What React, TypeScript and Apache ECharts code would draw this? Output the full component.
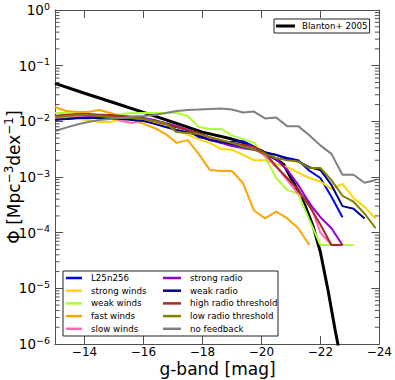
import React, { useEffect, useRef } from 'react';
import * as echarts from 'echarts';

// Bin centres (absolute g-band magnitude)
const MAGS = [
  -13.0, -13.375, -13.75, -14.125, -14.5, -14.875, -15.25, -15.625, -16.0, -16.375,
  -16.75, -17.125, -17.5, -17.875, -18.25, -18.625, -19.0, -19.375, -19.75, -20.125,
  -20.5, -20.875, -21.25, -21.625, -22.0, -22.375, -22.75, -23.125, -23.5, -23.875,
];

// Blanton+ 2005 reference luminosity function
const BLANTON_MAG = [-13, -14, -15, -16, -17, -18, -19, -19.5, -20, -20.5, -20.75, -21, -21.25, -21.5, -21.75, -22, -22.25, -22.5, -22.65];
const BLANTON_PHI = [0.048, 0.032, 0.0216, 0.0145, 0.0097, 0.0064, 0.0048, 0.0040, 0.00294, 0.00208, 0.00170, 0.00097, 0.00056, 0.00029, 0.000132, 0.000045, 0.0000098, 0.0000018, 0.0000007];

const L25N256 = [0.0110, 0.0110, 0.0110, 0.0115, 0.0115, 0.0115, 0.0115, 0.0110, 0.0106, 0.0097, 0.0082, 0.0079, 0.0070, 0.0052, 0.0048, 0.0041, 0.0043, 0.0044, 0.0035, 0.0027, 0.0025, 0.0022, 0.0020, 0.0013, 0.00096, 0.00044, 0.00019];
const STRONG_WINDS = [0.0120, 0.0115, 0.0110, 0.0106, 0.0097, 0.0097, 0.0110, 0.0110, 0.0101, 0.0093, 0.0082, 0.0070, 0.0057, 0.0048, 0.0041, 0.0032, 0.0031, 0.0025, 0.0020, 0.0020, 0.0017, 0.0015, 0.0012, 0.00096, 0.00083, 0.00061, 0.00075, 0.00042, 0.00029, 0.00018];
const WEAK_WINDS = [0.0141, 0.0141, 0.0135, 0.0135, 0.0135, 0.0130, 0.0135, 0.0141, 0.0141, 0.0141, 0.0141, 0.0141, 0.0125, 0.0079, 0.0073, 0.0073, 0.0056, 0.0048, 0.0041, 0.0023, 0.00096, 0.00058, 0.00050, 0.00017, 0.00006, 0.00006, 0.00006, 0.00006];
const FAST_WINDS = [0.0181, 0.0153, 0.0147, 0.0147, 0.0160, 0.0141, 0.0120, 0.0106, 0.0090, 0.0076, 0.0059, 0.0041, 0.0046, 0.0026, 0.00134, 0.00128, 0.00128, 0.00078, 0.00025, 0.00018, 0.00024, 0.00018, 0.00012, 0.00006];
const SLOW_WINDS = [0.0115, 0.0120, 0.0120, 0.0115, 0.0115, 0.0120, 0.0101, 0.0093, 0.0110, 0.0101, 0.0093, 0.0082, 0.0070, 0.0059, 0.0050, 0.0044, 0.0038, 0.0035, 0.0033, 0.0024, 0.00153, 0.00088, 0.00050, 0.00036, 0.00010, 0.00006];
const STRONG_RADIO = [0.0125, 0.0130, 0.0130, 0.0125, 0.0120, 0.0120, 0.0125, 0.0120, 0.0115, 0.0106, 0.0093, 0.0082, 0.0070, 0.0057, 0.0046, 0.0041, 0.0036, 0.0033, 0.0031, 0.0026, 0.0021, 0.00134, 0.00072, 0.00034, 0.00019, 0.00012, 0.00006];
const WEAK_RADIO = [0.0106, 0.0110, 0.0115, 0.0115, 0.0115, 0.0110, 0.0110, 0.0106, 0.0101, 0.0090, 0.0079, 0.0070, 0.0064, 0.0055, 0.0046, 0.0043, 0.0039, 0.0035, 0.0031, 0.0028, 0.0025, 0.0021, 0.0019, 0.0015, 0.00134, 0.00072, 0.00030, 0.00027, 0.00018];
const HIGH_RADIO_THR = [0.0125, 0.0130, 0.0135, 0.0135, 0.0130, 0.0130, 0.0125, 0.0120, 0.0110, 0.0101, 0.0090, 0.0079, 0.0070, 0.0062, 0.0052, 0.0046, 0.0041, 0.0038, 0.0035, 0.0027, 0.00155, 0.00096, 0.00059, 0.00030, 0.00014, 0.00006, 0.00006];
const LOW_RADIO_THR = [0.0120, 0.0125, 0.0130, 0.0130, 0.0125, 0.0120, 0.0115, 0.0115, 0.0110, 0.0101, 0.0093, 0.0064, 0.0062, 0.0059, 0.0052, 0.0046, 0.0041, 0.0035, 0.0031, 0.0026, 0.0022, 0.0020, 0.0019, 0.00145, 0.00145, 0.00088, 0.00046, 0.00036, 0.00022, 0.00012];
const NO_FEEDBACK = [0.0067, 0.0077, 0.0088, 0.0097, 0.0106, 0.0110, 0.0115, 0.0122, 0.0125, 0.0130, 0.0141, 0.0153, 0.0160, 0.0163, 0.0167, 0.0170, 0.0163, 0.0144, 0.0150, 0.0113, 0.0117, 0.0082, 0.0082, 0.0056, 0.0037, 0.0026, 0.0011, 0.0011, 0.00079, 0.00088];

const RUNS = [
  { name: 'L25n256', color: '#0000ff', data: L25N256 },
  { name: 'strong winds', color: '#ffd700', data: STRONG_WINDS },
  { name: 'weak winds', color: '#adff2f', data: WEAK_WINDS },
  { name: 'fast winds', color: '#ffa500', data: FAST_WINDS },
  { name: 'slow winds', color: '#ff69b4', data: SLOW_WINDS },
  { name: 'strong radio', color: '#9400d3', data: STRONG_RADIO },
  { name: 'weak radio', color: '#00008b', data: WEAK_RADIO },
  { name: 'high radio threshold', color: '#a52a2a', data: HIGH_RADIO_THR },
  { name: 'low radio threshold', color: '#808000', data: LOW_RADIO_THR },
  { name: 'no feedback', color: '#808080', data: NO_FEEDBACK },
];

const FONT = '"DejaVu Sans", sans-serif';
const AX = '#505050';

export default function App() {
  const ref = useRef<HTMLDivElement>(null);
  useEffect(() => {
    if (!ref.current) return;
    const chart = echarts.init(ref.current, null, { renderer: 'svg' });

    const minorVals: number[][] = [];
    for (let e = -6; e < 0; e++) {
      for (let m = 2; m <= 9; m++) minorVals.push([-13, m * Math.pow(10, e)]);
    }

    const fmtX = (v: number) => (v < 0 ? '\u2212' + Math.abs(v) : String(v));
    const fmtY = (v: number) => {
      const e = Math.round(Math.log10(v));
      return '{b|10}{s|' + (e < 0 ? '\u2212' + -e : String(e)) + '}';
    };

    const xBase = {
      type: 'value', min: -24, max: -13, inverse: true, interval: 2,
      axisLine: { show: true, onZero: false, lineStyle: { color: AX, width: 1 } },
      axisTick: { show: true, inside: true, length: 8, lineStyle: { color: AX, width: 1 } },
      splitLine: { show: false },
    };
    const yBase = {
      type: 'log', logBase: 10, min: 1e-6, max: 1, splitNumber: 6,
      axisLine: { show: true, onZero: false, lineStyle: { color: AX, width: 1 } },
      axisTick: { show: true, inside: true, length: 8, lineStyle: { color: AX, width: 1 } },
      splitLine: { show: false },
      minorTick: { show: false },
    };

    const series: any[] = [
      {
        type: 'line', name: 'Blanton+ 2005', color: '#000',
        data: BLANTON_MAG.map((m, i) => [m, BLANTON_PHI[i]]),
        showSymbol: false, lineStyle: { width: 3, color: '#000' }, z: 2,
      },
      ...RUNS.map((r, idx) => ({
        type: 'line', name: r.name, color: r.color,
        data: r.data.map((v, i) => [MAGS[i], v]),
        showSymbol: false, lineStyle: { width: 2, color: r.color }, z: 3 + idx,
      })),
      {
        type: 'custom', name: 'minor', silent: true, z: 20,
        data: minorVals,
        encode: { x: 0, y: 1 },
        renderItem: (_p: any, api: any) => {
          const v = api.value(1);
          const l = api.coord([-13, v]);
          const r = api.coord([-24, v]);
          return {
            type: 'group',
            children: [
              { type: 'line', shape: { x1: l[0], y1: l[1], x2: l[0] + 4.5, y2: l[1] }, style: { stroke: AX, lineWidth: 1 } },
              { type: 'line', shape: { x1: r[0], y1: r[1], x2: r[0] - 4.5, y2: r[1] }, style: { stroke: AX, lineWidth: 1 } },
            ],
          };
        },
      },
    ];

    const legendText = { fontSize: 8.7, fontFamily: FONT, color: '#000', lineHeight: 10, padding: [0, 0, 0, 4] };

    chart.setOption({
      animation: false,
      backgroundColor: '#fff',
      grid: { left: 55, top: 10, width: 325, height: 334, containLabel: false },
      xAxis: [
        { ...xBase, position: 'bottom', axisLabel: { margin: 2, fontSize: 12, fontFamily: FONT, color: '#000', formatter: fmtX, showMaxLabel: false } },
        { ...xBase, position: 'top', axisLabel: { show: false } },
      ],
      yAxis: [
        {
          ...yBase, position: 'left',
          axisLabel: {
            margin: 5, formatter: fmtY,
            rich: {
              b: { fontSize: 13.5, fontFamily: FONT, color: '#000', lineHeight: 18 },
              s: { fontSize: 9.5, fontFamily: FONT, color: '#000', verticalAlign: 'top', lineHeight: 11 },
            },
          },
        },
        { ...yBase, position: 'right', axisLabel: { show: false } },
      ],
      legend: [
        {
          data: ['Blanton+ 2005'], left: 274, top: 19, orient: 'vertical', z: 60,
          icon: 'rect', itemWidth: 19, itemHeight: 3,
          padding: [2, 2, 2, 2], borderColor: '#222', borderWidth: 1, backgroundColor: '#fff',
          textStyle: { ...legendText, padding: [0, 0, 0, 2] },
          selectedMode: false,
        },
        {
          data: RUNS.slice(0, 5).map((r) => r.name), left: 66, top: 273, orient: 'vertical', z: 60,
          icon: 'rect', itemWidth: 16, itemHeight: 2.5, itemGap: 2.7, padding: 0,
          textStyle: legendText, selectedMode: false,
        },
        {
          data: RUNS.slice(5).map((r) => r.name), left: 163, top: 273, orient: 'vertical', z: 60,
          icon: 'rect', itemWidth: 18, itemHeight: 2.5, itemGap: 2.7, padding: 0,
          textStyle: legendText, selectedMode: false,
        },
      ],
      graphic: [
        {
          type: 'rect', z: 30,
          shape: { x: 63, y: 271, width: 215, height: 65 },
          style: { fill: '#fff', stroke: '#222', lineWidth: 1 },
          silent: true,
        },
        {
          type: 'text', x: 217.5, y: 369,
          style: { text: 'g-band [mag]', fontSize: 17, fontFamily: FONT, fill: '#000', align: 'center', verticalAlign: 'middle' },
        },
        {
          type: 'text', x: 14, y: 177, rotation: Math.PI / 2,
          style: {
            text: '{a|\u03a6 [Mpc}{s|\u22123}{a|dex}{s|\u22121}{a|]}',
            align: 'center', verticalAlign: 'middle',
            rich: {
              a: { fontSize: 17, fontFamily: FONT, fill: '#000', lineHeight: 22 },
              s: { fontSize: 12, fontFamily: FONT, fill: '#000', verticalAlign: 'top', lineHeight: 14 },
            },
          },
        },
      ],
      series,
    });
    return () => chart.dispose();
  }, []);
  return <div ref={ref} style={{ position: 'fixed', left: 0, top: 0, width: 395, height: 380 }} />;
}
